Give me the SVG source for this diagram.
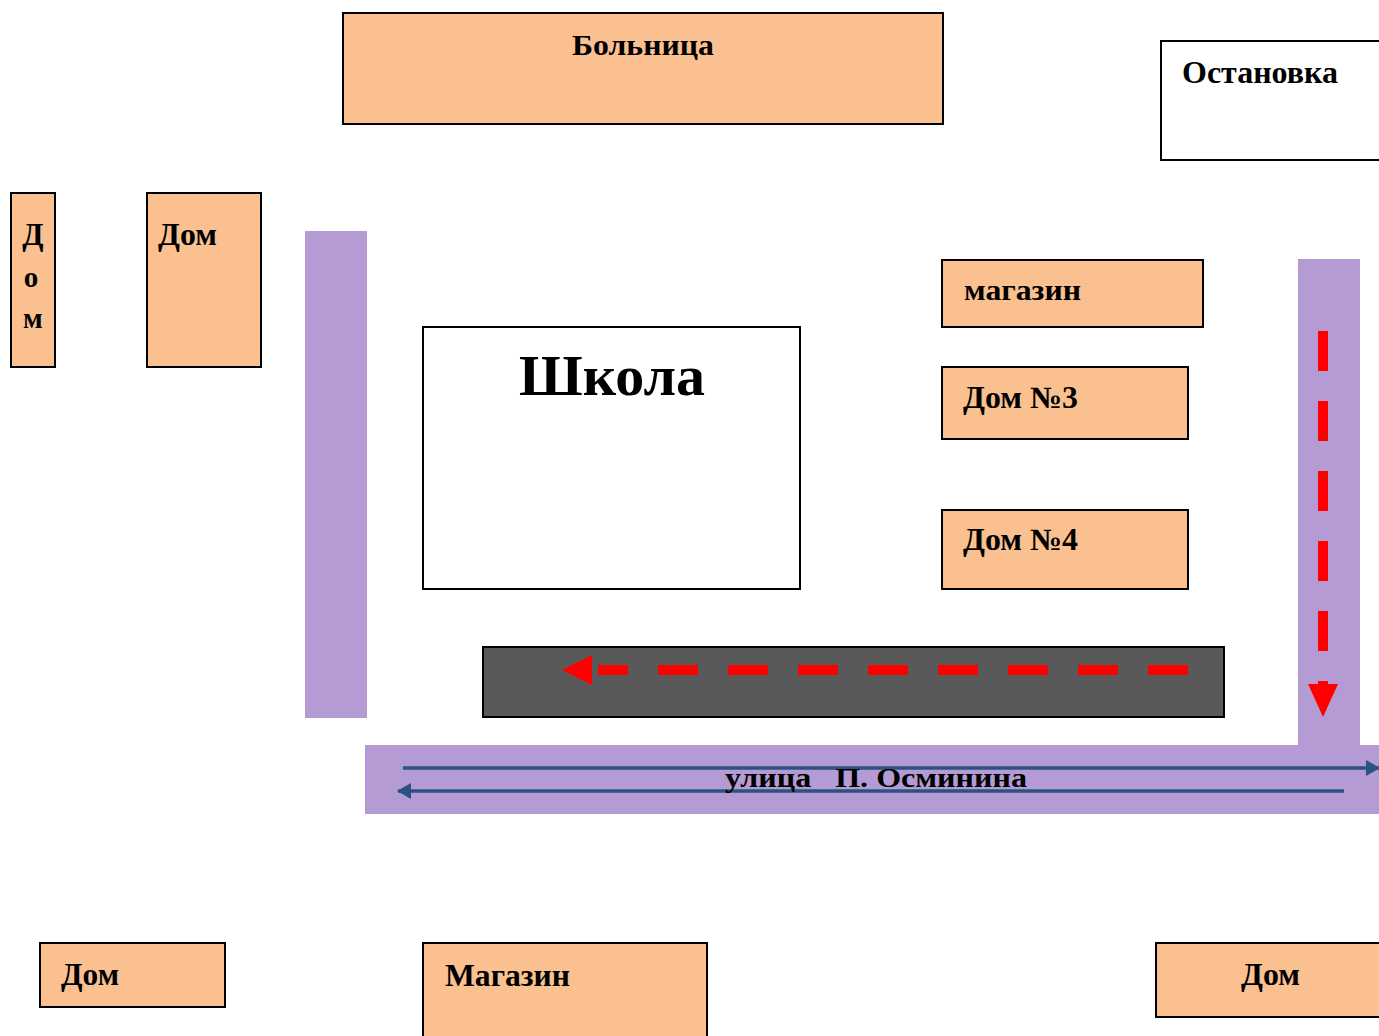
<svg xmlns="http://www.w3.org/2000/svg" width="1379" height="1036" viewBox="0 0 1379 1036">
<defs>
<style>
.b{fill:#FAC090;stroke:#000;stroke-width:2}
.w{fill:#fff;stroke:#000;stroke-width:2}
.t{font-family:"Liberation Serif","Times New Roman",serif;font-weight:bold;fill:#000}
.st{fill:#B49BD3}
.red{stroke:#FF0000;stroke-width:10;fill:none}
.blue{stroke:#2C5282;stroke-width:3.5;fill:none}
</style>
<marker id="ab" markerWidth="14" markerHeight="16" refX="13" refY="8" orient="auto" markerUnits="userSpaceOnUse" viewBox="0 0 14 16"><path d="M0,0 L14,8 L0,16 z" fill="#2C5282"/></marker>
</defs>
<rect width="1379" height="1036" fill="#fff"/>
<g id="streets">
<rect class="st" x="305" y="231" width="62" height="487"/>
<rect class="st" x="1298" y="259" width="62" height="490"/>
<rect class="st" x="365" y="745" width="1014" height="69"/>
<rect x="483" y="647" width="741" height="70" fill="#595959" stroke="#000" stroke-width="2"/>
</g>
<g id="hospital"><rect class="b" x="343" y="13" width="600" height="111"/><text class="t" x="643" y="55" font-size="30" text-anchor="middle" textLength="142" lengthAdjust="spacingAndGlyphs">Больница</text></g>
<g id="stop"><rect class="w" x="1161" y="41" width="230" height="119"/><text class="t" x="1182" y="83" font-size="31" textLength="156" lengthAdjust="spacingAndGlyphs">Остановка</text></g>
<g id="dom-narrow"><rect class="b" x="11" y="193" width="44" height="174"/>
<text class="t" x="33" y="245" font-size="31" text-anchor="middle">Д</text>
<text class="t" x="31" y="287" font-size="29" text-anchor="middle">о</text>
<text class="t" x="33" y="328" font-size="29" text-anchor="middle">м</text></g>
<g id="dom1"><rect class="b" x="147" y="193" width="114" height="174"/><text class="t" x="158" y="245" font-size="31" textLength="59" lengthAdjust="spacingAndGlyphs">Дом</text></g>
<g id="school"><rect class="w" x="423" y="327" width="377" height="262"/><text class="t" x="612" y="395" font-size="56" text-anchor="middle" textLength="186" lengthAdjust="spacingAndGlyphs">Школа</text></g>
<g id="shop1"><rect class="b" x="942" y="260" width="261" height="67"/><text class="t" x="964" y="300" font-size="29" textLength="117" lengthAdjust="spacingAndGlyphs">магазин</text></g>
<g id="dom3"><rect class="b" x="942" y="367" width="246" height="72"/><text class="t" x="963" y="408" font-size="31" textLength="115" lengthAdjust="spacingAndGlyphs">Дом №3</text></g>
<g id="dom4"><rect class="b" x="942" y="510" width="246" height="79"/><text class="t" x="963" y="550" font-size="31" textLength="115" lengthAdjust="spacingAndGlyphs">Дом №4</text></g>
<g id="dom-bl"><rect class="b" x="40" y="943" width="185" height="64"/><text class="t" x="61" y="985" font-size="31" textLength="58" lengthAdjust="spacingAndGlyphs">Дом</text></g>
<g id="shop2"><rect class="b" x="423" y="943" width="284" height="100"/><text class="t" x="445" y="986" font-size="31" textLength="125" lengthAdjust="spacingAndGlyphs">Магазин</text></g>
<g id="dom-br"><rect class="b" x="1156" y="943" width="235" height="74"/><text class="t" x="1241" y="985" font-size="31" textLength="59" lengthAdjust="spacingAndGlyphs">Дом</text></g>
<g id="connectors">
<path class="red" d="M1188,670 H598" stroke-dasharray="40 30"/>
<path d="M562,670 L592,655 L592,685 z" fill="#FF0000"/>
<path class="red" d="M1323,331 V690" stroke-dasharray="40 30"/>
<path d="M1323,717 L1308,684 L1338,684 z" fill="#FF0000"/>
<path class="blue" d="M403,768 H1379" marker-end="url(#ab)"/>
<path class="blue" d="M1344,791 H398" marker-end="url(#ab)"/>
</g>
<text class="t" x="876" y="787" font-size="27" text-anchor="middle" textLength="302" lengthAdjust="spacingAndGlyphs" xml:space="preserve">улица   П. Осминина</text>
</svg>
